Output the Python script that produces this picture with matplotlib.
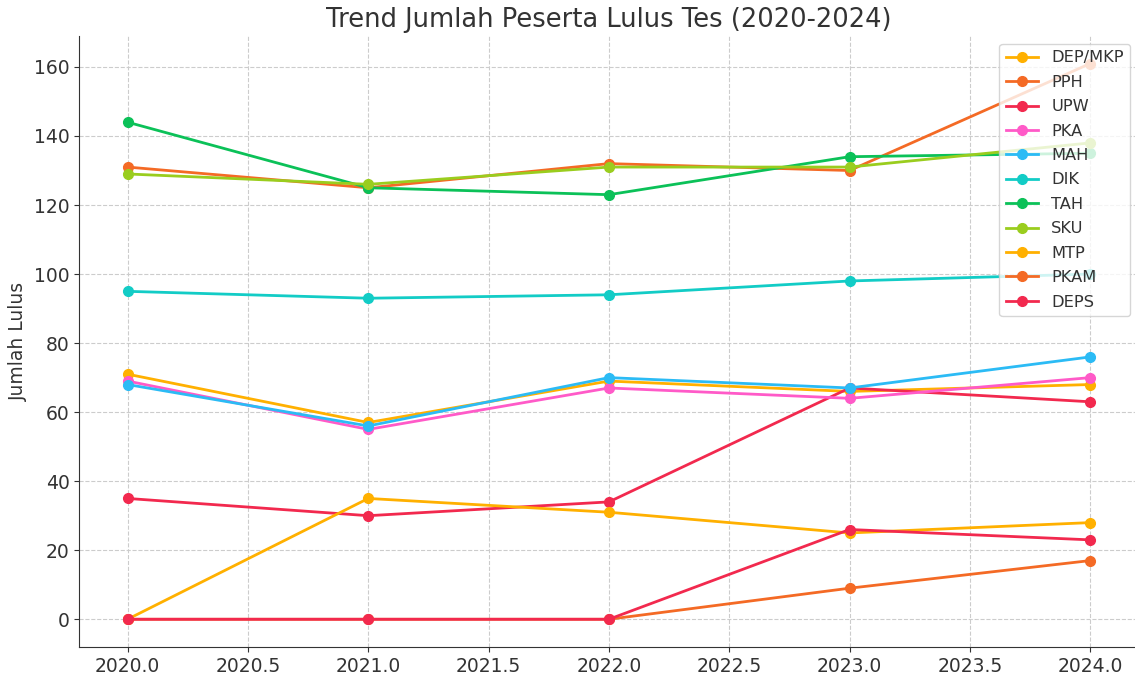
import matplotlib
matplotlib.use('Agg')
import matplotlib.pyplot as plt

YEARS = [2020, 2021, 2022, 2023, 2024]

SERIES = ["DEP/MKP", "PPH", "UPW", "PKA", "MAH", "DIK", "TAH", "SKU", "MTP", "PKAM", "DEPS"]
DEP_MKP = [71, 57, 69, 66, 68]
PPH = [131, 125, 132, 130, 161]
UPW = [35, 30, 34, 67, 63]
PKA = [69, 55, 67, 64, 70]
MAH = [68, 56, 70, 67, 76]
DIK = [95, 93, 94, 98, 100]
TAH = [144, 125, 123, 134, 135]
SKU = [129, 126, 131, 131, 138]
MTP = [0, 35, 31, 25, 28]
PKAM = [0, 0, 0, 9, 17]
DEPS = [0, 0, 0, 26, 23]
VALUES = [DEP_MKP, PPH, UPW, PKA, MAH, DIK, TAH, SKU, MTP, PKAM, DEPS]

COLORS = ["#FFB000", "#F46A25", "#F2294E", "#FF5AC8", "#2BBBF5",
          "#12CCC6", "#0BC158", "#9ACD1E"]

plt.rcParams['font.family'] = ['DejaVu Sans']
fig, ax = plt.subplots(figsize=(11.35, 6.74), dpi=100)

for i, (name, vals) in enumerate(zip(SERIES, VALUES)):
    ax.plot(YEARS, vals, marker="o", markersize=7, linewidth=2,
            color=COLORS[i % len(COLORS)], label=name)

ax.set_title("Trend Jumlah Peserta Lulus Tes (2020-2024)", fontsize=18.5, color="#333333")
ax.set_ylabel("Jumlah Lulus", fontsize=13.5, color="#333333")
ax.tick_params(labelsize=13.5, colors="#333333")
ax.grid(True, linestyle="--", color="#cccccc", linewidth=0.8)
ax.spines["top"].set_visible(False)
ax.spines["right"].set_visible(False)
for s in ("left", "bottom"):
    ax.spines[s].set_color("#333333")
leg = ax.legend(loc="upper right", fontsize=11.7, labelcolor="#333333",
                labelspacing=0.58)
leg.get_frame().set_edgecolor("#cccccc")

plt.subplots_adjust(left=0.07, right=1.003, top=0.947, bottom=0.04)
plt.savefig("out.png")
plt.close()
